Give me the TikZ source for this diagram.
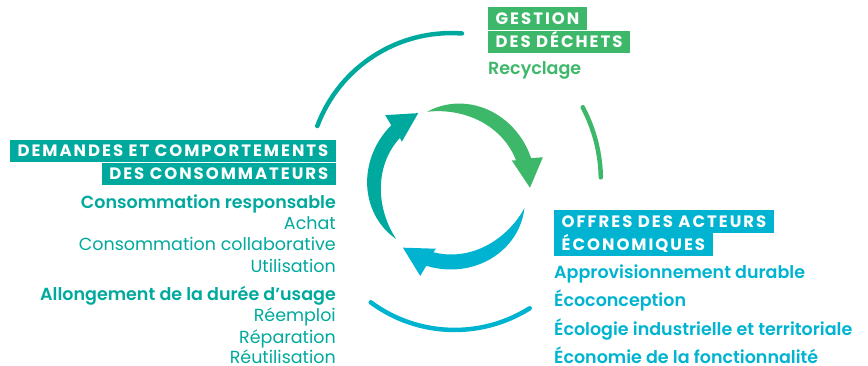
\documentclass[tikz,border=0pt]{standalone}
\usepackage{fontspec}
\setmainfont{Poppins}[BoldFont={Poppins SemiBold}]
\newfontfamily\tagfont{Poppins Bold}[LetterSpace=12]
\definecolor{dteal}{HTML}{00A99D}
\definecolor{dgreen}{HTML}{3DB86A}
\definecolor{dcyan}{HTML}{00B4D1}

\begin{document}
\begin{tikzpicture}[x=1pt,y=-1pt,
	tag/.style={fill=#1,text=white,font=\tagfont\fontsize{16.5}{16.5}\selectfont,
		inner xsep=7.5pt,inner ysep=5.6pt,text height=11.5pt,text depth=0pt},
	entry/.style={text=#1,font=\fontsize{17.5}{17.5}\selectfont,inner sep=0pt,text depth=0pt},
	keyentry/.style={entry=#1,font=\bfseries\fontsize{17.5}{17.5}\selectfont},
	ring/.style={draw=#1,line width=4.5pt,line cap=round}]
	\useasboundingbox (0,0) rectangle (868,366);
	% top
	\node[tag=dgreen,anchor=north west] (gestion) at (488,7.3) {GESTION};
	\node[tag=dgreen,anchor=north west] (dechets) at (gestion.south west) {DES DÉCHETS};
	\node[keyentry=dgreen,anchor=base west] (recyclage) at (488,75) {Recyclage};
	% left
	\node[tag=dteal,anchor=north east] (demandes) at (336,139.5) {DEMANDES ET COMPORTEMENTS};
	\node[tag=dteal,anchor=north east] (conso) at (demandes.south east) {DES CONSOMMATEURS};
	\node[keyentry=dteal,anchor=base east] (responsable) at (336,208.3) {Consommation responsable};
	\node[entry=dteal,anchor=base east] (achat) at (336,229.7) {Achat};
	\node[entry=dteal,anchor=base east] (collab) at (336,251) {Consommation collaborative};
	\node[entry=dteal,anchor=base east] (utilisation) at (336,272.3) {Utilisation};
	\node[keyentry=dteal,anchor=base east] (allongement) at (336,300.7) {Allongement de la durée d’usage};
	\node[entry=dteal,anchor=base east] (reemploi) at (336,322) {Réemploi};
	\node[entry=dteal,anchor=base east] (reparation) at (336,343.3) {Réparation};
	\node[entry=dteal,anchor=base east] (reutilisation) at (336,363.5) {Réutilisation};
	% right
	\node[tag=dcyan,anchor=north west] (offres) at (554,210) {OFFRES DES ACTEURS};
	\node[tag=dcyan,anchor=north west] (eco) at (offres.south west) {ÉCONOMIQUES};
	\node[keyentry=dcyan,anchor=base west] (appro) at (554,278.5) {Approvisionnement durable};
	\node[keyentry=dcyan,anchor=base west] (ecoconception) at (554,307) {Écoconception};
	\node[keyentry=dcyan,anchor=base west] (ecologie) at (554,335.3) {Écologie industrielle et territoriale};
	\node[keyentry=dcyan,anchor=base west] (economie) at (554,363) {Économie de la fonctionnalité};
	% outer rings
	\coordinate (t0) at (317.3,126);
	\coordinate (g0) at (582.7,107.3);
	\coordinate (c0) at (370.7,302.3);
	\draw[ring=dteal] (t0) arc[start angle=-159.5,end angle=-85.7,radius=143];
	\draw[ring=dgreen] (g0) arc[start angle=-28,end angle=-1,radius=155];
	\draw[ring=dcyan] (c0) arc[start angle=126.5,end angle=57.8,radius=141];
	% cycle arrows
	\coordinate (c) at (451,185);
	\begin{scope}[shift={(c)},yscale=-1]
		\fill[dteal] plot[domain=0:1,samples=40] ({224.5-89.5*\x}:{77+7.5*sin(90*\x)*(2-sin(90*\x))})
			-- (133.3:96) -- (114.5:79) -- (138.7:65.5)
			-- plot[domain=1:0,samples=40] ({224.5-87.2*\x}:{77-7.5*sin(90*\x)*(2-sin(90*\x))}) -- cycle;
	\end{scope}
	\begin{scope}[shift={(c)},yscale=-1,rotate=116.5]
		\fill[dgreen] plot[domain=0:1,samples=40] ({224.5-89.5*\x}:{77+7.5*sin(90*\x)*(2-sin(90*\x))})
			-- (133.3:96) -- (114.5:79) -- (138.7:65.5)
			-- plot[domain=1:0,samples=40] ({224.5-87.2*\x}:{77-7.5*sin(90*\x)*(2-sin(90*\x))}) -- cycle;
	\end{scope}
	\begin{scope}[shift={(c)},yscale=-1,rotate=242]
		\fill[dcyan] plot[domain=0:1,samples=40] ({224.5-89.5*\x}:{77+7.5*sin(90*\x)*(2-sin(90*\x))})
			-- (133.3:96) -- (114.5:79) -- (138.7:65.5)
			-- plot[domain=1:0,samples=40] ({224.5-87.2*\x}:{77-7.5*sin(90*\x)*(2-sin(90*\x))}) -- cycle;
	\end{scope}
\end{tikzpicture}
\end{document}
